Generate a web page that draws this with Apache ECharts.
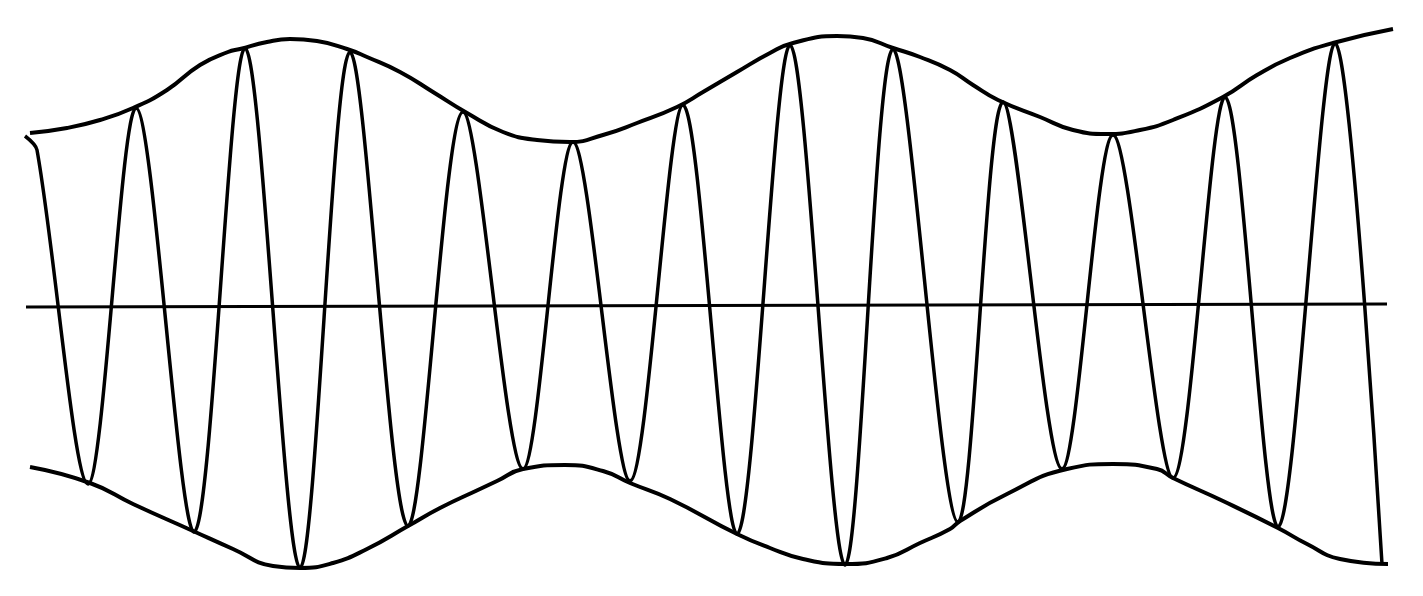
<!DOCTYPE html>
<html>
<head>
<meta charset="utf-8">
<script src="https://cdn.jsdelivr.net/npm/echarts@6/dist/echarts.min.js"></script>
<style>html,body{margin:0;padding:0;background:#fff}#c{width:1423px;height:596px}</style>
</head>
<body>
<div id="c"></div>
<script>
// Amplitude-modulated wave, values (amplitude relative to the baseline)
const upperX = [30,67,100,133,167,200,228,240,267,290,317,347,367,400,433,467,503,537,570,603,637,677,703,737,770,793,837,863,893,920,950,973,998,1040,1073,1107,1140,1173,1223,1257,1290,1333,1393];
const upperY = [172,177,185,197,215,240,253,256,263,266,264,256,248,233,213,192,173,165,163,170,182,198,213,233,252,262,269,267,257,248,235,220,205,188,175,171,175,185,208,230,247,262,276];

const lowerX = [30,90,133,193,233,273,300,333,367,408,440,480,497,523,565,603,630,670,737,770,803,845,887,920,950,960,1007,1067,1113,1157,1173,1223,1278,1307,1340,1388];
const lowerY = [-162,-178,-199,-226,-244,-261,-263,-258,-244,-221,-203,-184,-176,-164,-160,-166,-178,-194,-229,-243,-254,-259,-253,-238,-224,-216,-189,-164,-159,-164,-173,-196,-223,-239,-254,-259];

const carrierX = [25,37,88,136,194,245,300,350,408,463,523,573,630,683,737,790,845,893,958,1003,1062,1113,1173,1225,1278,1335,1382];
const carrierY = [169,155,-179,197,-227,257,-263,253,-221,193,-164,163,-176,200,-229,260,-260,256,-217,203,-164,170,-173,208,-222,262,-259];

const baseX = [26,1387];
const baseY = [-2,1];

const zip = (xs, ys) => xs.map((x, i) => [x, ys[i]]);
const ink = '#000';

const chart = echarts.init(document.getElementById('c'), null, {renderer: 'canvas'});
chart.setOption({
  backgroundColor: '#fff',
  animation: false,
  grid: {left: 0, right: 0, top: 0, bottom: 0},
  xAxis: {type: 'value', min: 0, max: 1423, show: false},
  yAxis: {type: 'value', min: -291, max: 305, show: false},
  series: [
    {type: 'line', data: zip(baseX, baseY), symbol: 'none', lineStyle: {color: ink, width: 3}},
    {type: 'line', data: zip(upperX, upperY), smooth: 0.5, symbol: 'none', lineStyle: {color: ink, width: 4}},
    {type: 'line', data: zip(lowerX, lowerY), smooth: 0.5, symbol: 'none', lineStyle: {color: ink, width: 4}},
    {type: 'line', data: zip(carrierX, carrierY), smooth: 0.3, symbol: 'none', lineStyle: {color: ink, width: 3.5}}
  ]
});
</script>
</body>
</html>
